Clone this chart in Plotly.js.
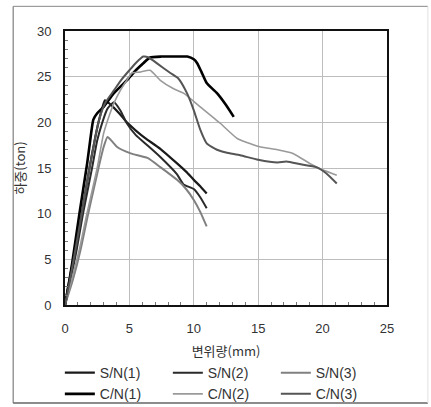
<!DOCTYPE html>
<html><head><meta charset="utf-8">
<script src="https://cdn.plot.ly/plotly-3.0.1.min.js"></script>
<style>html,body{margin:0;padding:0;background:#fff}#chart{width:431px;height:407px}</style>
</head><body><div id="chart"></div>
<script>
// S/N(1)
const sn1X = [0,0.3,0.8,1.3,1.9,2.3,2.6,2.9,3.1,3.5,4.2,4.8,5.5,6.2,7.4,8.7,9.4,10,10.5,11];
const sn1Y = [0,2.5,6,10,15,18,20,21.6,22.4,22,21,20,19.1,18.3,17.1,15.5,14.6,13.7,13,12.2];
// S/N(2)
const sn2X = [0,0.4,0.9,1.4,2.1,2.5,2.9,3.3,3.8,4.3,4.8,5.5,6.3,7.4,8.7,9.2,10,10.5,11];
const sn2Y = [0,2.5,6,10,15,18,20,21.5,22.2,21.3,19.9,18.6,17.6,16.2,14.3,13.2,12.7,11.8,10.6];
// S/N(3)
const sn3X = [0,0.6,1.2,1.8,2.2,2.6,3,3.3,3.6,4.05,5.1,6.4,7.4,8.7,9.4,10,10.5,11];
const sn3Y = [0,2.7,6,10,12.5,15,17.3,18.4,18,17.3,16.6,16.1,15.1,13.7,12.7,11.5,10.2,8.6];
// C/N(1)
const cn1X = [0,0.3,0.56,1.12,1.72,2,2.2,2.5,3,3.8,4.8,5.5,6.1,6.6,7.5,8.5,9.5,10,10.25,10.6,11,11.8,12.5,13.1];
const cn1Y = [0,2.3,4.6,10,15.5,18.5,20.3,21,21.7,23.2,24.6,25.7,26.5,27.1,27.2,27.2,27.2,26.9,26.5,25.5,24.3,23.2,21.9,20.6];
// C/N(2)
const cn2X = [0,0.5,1.1,1.7,2.5,3,3.5,3.8,4.3,4.8,5.2,5.8,6.6,7.4,8.4,9.2,10.5,12.05,13.4,14.5,15.2,16.5,17.7,19,20,21.1];
const cn2Y = [0,2.7,6,10,15,18.8,21,22.1,23.5,24.6,25.4,25.5,25.7,24.6,23.7,23.2,21.7,19.9,18.2,17.6,17.3,17,16.6,15.5,14.8,14.2];
// C/N(3)
const cn3X = [0,0.35,0.8,1.3,1.9,2.3,2.6,2.9,3.2,3.8,4.4,5,5.5,6.07,6.5,7.2,8.18,8.8,9.47,9.98,10.5,11,11.8,12.5,13.6,15,16.5,17.2,18.3,19.5,20.3,21.1];
const cn3Y = [0,2.5,6,10,15,18,20,21.4,22.3,23.5,24.7,25.7,26.5,27.2,27.1,26.4,25.4,24.8,23.2,21.4,19.2,17.7,17,16.7,16.4,15.9,15.6,15.7,15.4,15.1,14.4,13.3];

const names = ['S/N(1)','S/N(2)','S/N(3)','C/N(1)','C/N(2)','C/N(3)'];
const xs = [sn1X,sn2X,sn3X,cn1X,cn2X,cn3X];
const ys = [sn1Y,sn2Y,sn3Y,cn1Y,cn2Y,cn3Y];
const colors = ['#1a1a1a','#2a2a2a','#808080','#000000','#9a9a9a','#555555'];
const widths = [2.2,2,2,2.6,1.6,2];

const traces = names.map((n,i)=>({
  x: xs[i], y: ys[i], name: n, type:'scatter', mode:'lines',
  line:{color:colors[i], width:widths[i], shape:'spline', smoothing:0.5}
}));

const font = {family:'Liberation Sans, Arial, sans-serif', size:13, color:'#333'};
const layout = {
  width:431, height:407,
  margin:{l:65, r:44, t:31, b:102, autoexpand:false},
  paper_bgcolor:'#fff', plot_bgcolor:'#fff',
  font: font,
  showlegend:true,
  xaxis:{range:[0,25], dtick:5, showgrid:true, gridcolor:'#bdbdbd', gridwidth:1,
    zeroline:false, showline:true, linecolor:'#111', linewidth:2, mirror:true,
    ticks:'', ticklen:0, tickfont:font, ticklabelstandoff:10,
    minor:{ticks:'inside', dtick:1, ticklen:3, tickcolor:'#777', showgrid:false},
    title:{text:'변위량(mm)', font:{family:'Noto Sans CJK KR, Liberation Sans, sans-serif', size:13, color:'#333'}, standoff:12}},
  yaxis:{range:[0,30], dtick:5, showgrid:true, gridcolor:'#bdbdbd', gridwidth:1,
    zeroline:false, showline:true, linecolor:'#111', linewidth:2, mirror:true,
    ticks:'', ticklen:0, tickfont:font, ticklabelstandoff:9,
    minor:{ticks:'inside', dtick:1, ticklen:3, tickcolor:'#777', showgrid:false},
    title:{text:'하중(ton)', font:{family:'Noto Sans CJK KR, Liberation Sans, sans-serif', size:13, color:'#333'}, standoff:8}},
  legend:{orientation:'h', x:-0.016, xanchor:'left', y:-0.19, yanchor:'top',
    entrywidth:63, entrywidthmode:'pixels', itemwidth:30,
    font:{family:'Liberation Sans, Arial, sans-serif', size:14, color:'#333'},
    tracegroupgap:0, bgcolor:'rgba(0,0,0,0)'},
  shapes:[
    {type:'line', xref:'paper', yref:'paper', x0:-0.161, x1:-0.161, y0:-0.358, y1:1.09, line:{color:'#666', width:1}},
    {type:'line', xref:'paper', yref:'paper', x0:-0.161, x1:1.127, y0:1.09, y1:1.09, line:{color:'#888', width:1}},
    {type:'line', xref:'paper', yref:'paper', x0:-0.161, x1:1.127, y0:-0.358, y1:-0.358, line:{color:'#666', width:1.5}},
    {type:'line', xref:'paper', yref:'paper', x0:1.127, x1:1.127, y0:-0.358, y1:1.09, line:{color:'#e0e0e0', width:1}}
  ]
};
Plotly.newPlot('chart', traces, layout, {displayModeBar:false, staticPlot:true});
</script></body></html>
